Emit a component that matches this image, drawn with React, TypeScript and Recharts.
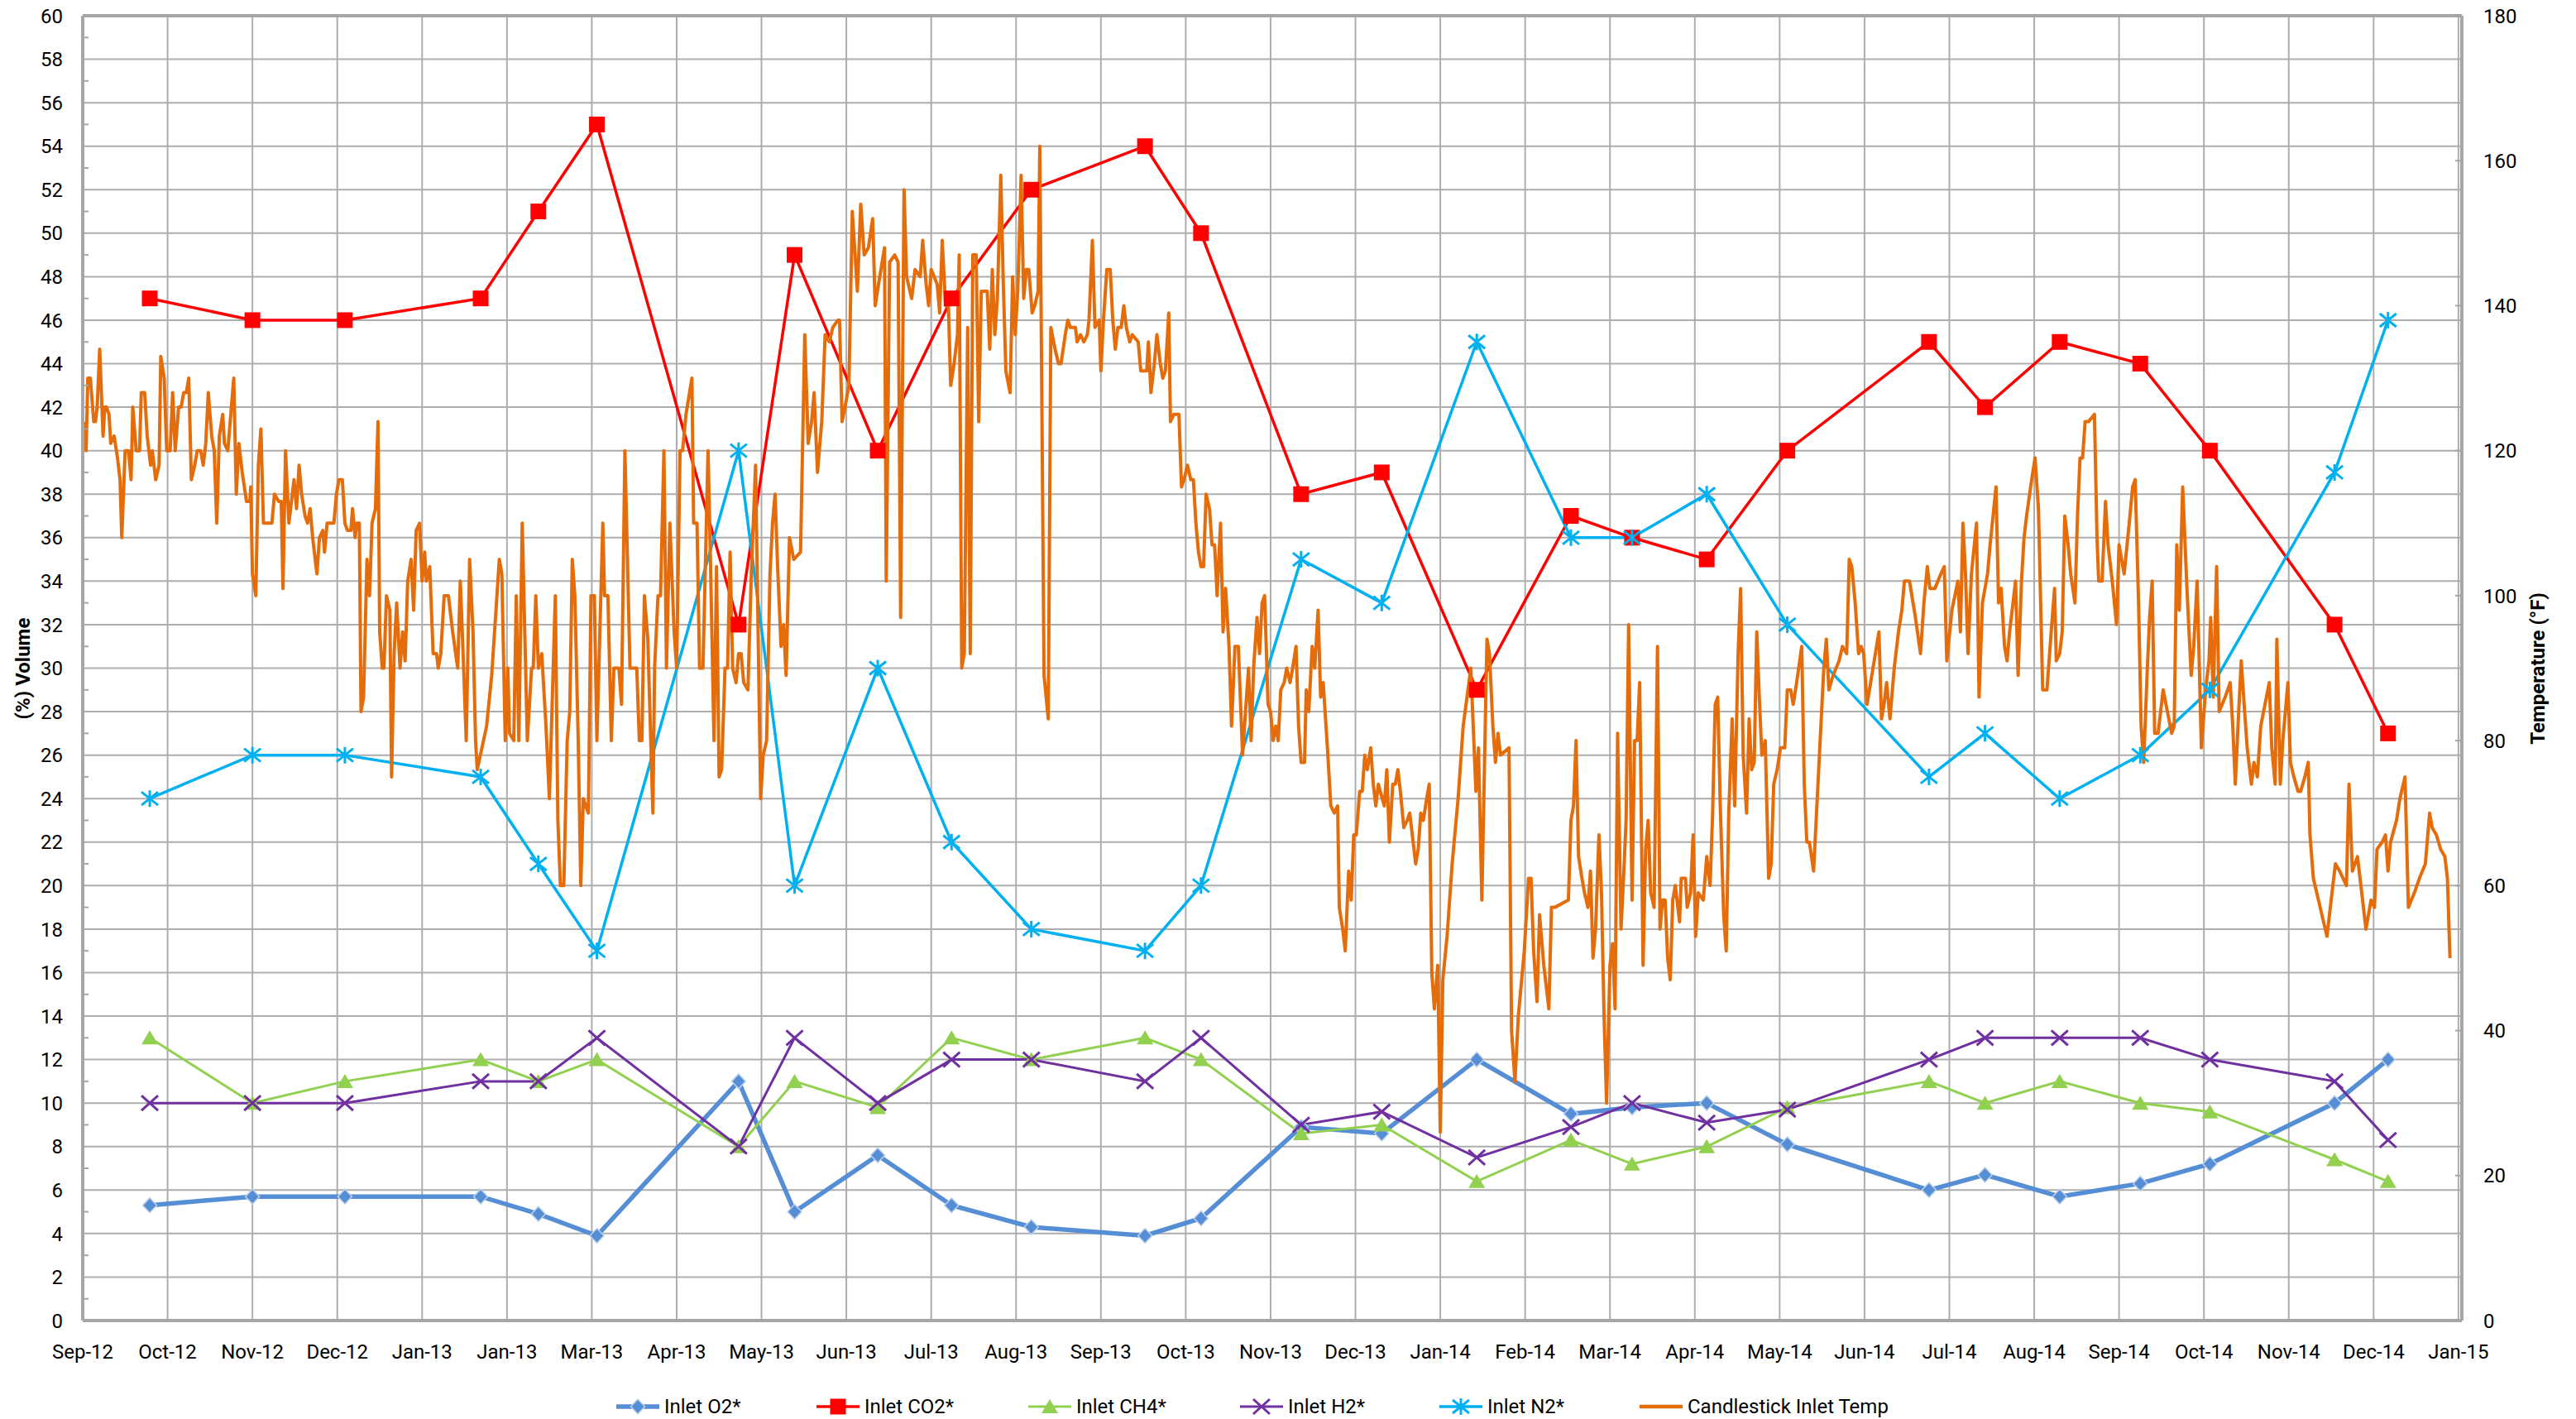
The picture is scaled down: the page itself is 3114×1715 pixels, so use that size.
import React from "react"
import { ComposedChart, Line, XAxis, YAxis, CartesianGrid, ReferenceLine } from "recharts"

// x values are months counted from the Sep-12 tick
const monthLabels = [
  "Sep-12", "Oct-12", "Nov-12", "Dec-12", "Jan-13", "Jan-13", "Mar-13", "Apr-13", "May-13", "Jun-13",
  "Jul-13", "Aug-13", "Sep-13", "Oct-13", "Nov-13", "Dec-13", "Jan-14", "Feb-14", "Mar-14", "Apr-14",
  "May-14", "Jun-14", "Jul-14", "Aug-14", "Sep-14", "Oct-14", "Nov-14", "Dec-14", "Jan-15",
]
const monthTicks = monthLabels.map((_, i) => i)

const volumeTicks = [0, 2, 4, 6, 8, 10, 12, 14, 16, 18, 20, 22, 24, 26, 28, 30, 32, 34, 36, 38, 40, 42, 44, 46, 48, 50, 52, 54, 56, 58, 60]
const volumeAllTicks = volumeTicks.flatMap((v) => (v < 60 ? [v, v + 1] : [v]))
const tempTicks = [0, 20, 40, 60, 80, 100, 120, 140, 160, 180]

const sampleMonths = [0.79, 2.0, 3.09, 4.69, 5.37, 6.06, 7.73, 8.39, 9.37, 10.24, 11.18, 12.52, 13.18, 14.36, 15.31, 16.43, 17.54, 18.26, 19.14, 20.09, 21.76, 22.42, 23.3, 24.25, 25.07, 26.54, 27.17]
const inletO2 = [5.3, 5.7, 5.7, 5.7, 4.9, 3.9, 11, 5.0, 7.6, 5.3, 4.3, 3.9, 4.7, 8.9, 8.6, 12, 9.5, 9.8, 10, 8.1, 6.0, 6.7, 5.7, 6.3, 7.2, 10, 12]
const inletCO2 = [47, 46, 46, 47, 51, 55, 32, 49, 40, 47, 52, 54, 50, 38, 39, 29, 37, 36, 35, 40, 45, 42, 45, 44, 40, 32, 27]
const inletCH4 = [13, 10, 11, 12, 11, 12, 8, 11, 9.8, 13, 12, 13, 12, 8.6, 9, 6.4, 8.3, 7.2, 8.0, 9.8, 11, 10, 11, 10, 9.6, 7.4, 6.4]
const inletH2 = [10, 10, 10, 11, 11, 13, 8, 13, 10, 12, 12, 11, 13, 9, 9.6, 7.5, 8.9, 10, 9.1, 9.7, 12, 13, 13, 13, 12, 11, 8.3]
const inletN2 = [24, 26, 26, 25, 21, 17, 40, 20, 30, 22, 18, 17, 20, 35, 33, 45, 36, 36, 38, 32, 25, 27, 24, 26, 29, 39, 46]

// [month, °F]
const candlestickTemp: [number, number][] = [
  [0.01, 124], [0.04, 120], [0.06, 130], [0.09, 130], [0.13, 124], [0.15, 124], [0.17, 126], [0.2, 134], [0.24, 122], [0.26, 126],
  [0.28, 126], [0.31, 125], [0.33, 121], [0.37, 122], [0.41, 119], [0.44, 116], [0.46, 108], [0.5, 120], [0.54, 120], [0.57, 116],
  [0.59, 126], [0.63, 120], [0.67, 120], [0.69, 128], [0.73, 128], [0.76, 122], [0.8, 118], [0.82, 120], [0.86, 116], [0.9, 118],
  [0.92, 133], [0.96, 130], [0.99, 120], [1.03, 120], [1.06, 128], [1.09, 120], [1.13, 126], [1.16, 126], [1.19, 128], [1.22, 128],
  [1.25, 130], [1.28, 116], [1.32, 118], [1.35, 120], [1.39, 120], [1.42, 118], [1.45, 121], [1.48, 128], [1.52, 122], [1.55, 120],
  [1.58, 110], [1.61, 122], [1.65, 125], [1.67, 121], [1.71, 120], [1.78, 130], [1.81, 114], [1.84, 121], [1.88, 117], [1.93, 113],
  [1.97, 113], [1.98, 115], [2.0, 103], [2.04, 100], [2.07, 118], [2.1, 123], [2.13, 110], [2.23, 110], [2.26, 114], [2.31, 113],
  [2.34, 113], [2.36, 101], [2.39, 120], [2.43, 110], [2.46, 113], [2.49, 116], [2.52, 112], [2.55, 118], [2.58, 114], [2.62, 111],
  [2.65, 110], [2.68, 112], [2.71, 108], [2.76, 103], [2.79, 108], [2.83, 109], [2.85, 106], [2.88, 110], [2.96, 110], [2.99, 114],
  [3.02, 116], [3.06, 116], [3.09, 110], [3.12, 109], [3.16, 109], [3.18, 112], [3.21, 108], [3.23, 110], [3.26, 110], [3.28, 84],
  [3.31, 86], [3.35, 105], [3.38, 100], [3.41, 110], [3.45, 112], [3.48, 124], [3.5, 95], [3.53, 90], [3.55, 90], [3.58, 100],
  [3.62, 98], [3.64, 75], [3.67, 92], [3.7, 99], [3.74, 90], [3.77, 95], [3.8, 91], [3.83, 102], [3.87, 105], [3.9, 98],
  [3.93, 109], [3.97, 110], [4.0, 102], [4.03, 106], [4.05, 102], [4.09, 104], [4.13, 92], [4.17, 92], [4.19, 90], [4.22, 92],
  [4.26, 100], [4.31, 100], [4.36, 95], [4.42, 90], [4.45, 102], [4.48, 93], [4.52, 80], [4.56, 105], [4.6, 95], [4.63, 80],
  [4.65, 76], [4.76, 82], [4.82, 89], [4.91, 105], [4.94, 103], [4.98, 80], [5.01, 90], [5.03, 81], [5.08, 80], [5.11, 100],
  [5.14, 80], [5.18, 110], [5.24, 80], [5.29, 90], [5.31, 90], [5.34, 100], [5.37, 90], [5.41, 92], [5.46, 82], [5.5, 72],
  [5.57, 100], [5.6, 69], [5.63, 60], [5.67, 60], [5.71, 80], [5.74, 84], [5.77, 105], [5.8, 100], [5.84, 80], [5.87, 60],
  [5.9, 72], [5.96, 70], [5.99, 100], [6.03, 100], [6.06, 80], [6.13, 110], [6.15, 100], [6.19, 100], [6.23, 80], [6.26, 90],
  [6.32, 90], [6.35, 85], [6.39, 120], [6.45, 90], [6.53, 90], [6.56, 80], [6.59, 80], [6.62, 100], [6.66, 94], [6.72, 70],
  [6.74, 90], [6.78, 100], [6.81, 100], [6.85, 120], [6.88, 90], [6.92, 110], [6.97, 95], [7.0, 90], [7.04, 120], [7.07, 120],
  [7.11, 125], [7.18, 130], [7.2, 110], [7.24, 110], [7.27, 90], [7.31, 90], [7.37, 120], [7.4, 104], [7.44, 80], [7.47, 104],
  [7.5, 75], [7.53, 76], [7.57, 90], [7.6, 90], [7.63, 106], [7.66, 90], [7.7, 88], [7.73, 92], [7.76, 92], [7.79, 88],
  [7.84, 87], [7.88, 103], [7.93, 118], [7.99, 72], [8.02, 78], [8.06, 80], [8.1, 103], [8.13, 110], [8.16, 114], [8.19, 104],
  [8.23, 93], [8.26, 96], [8.29, 89], [8.33, 108], [8.38, 105], [8.46, 106], [8.51, 136], [8.55, 121], [8.59, 124], [8.62, 128],
  [8.66, 117], [8.71, 124], [8.75, 136], [8.8, 135], [8.84, 137], [8.9, 138], [8.92, 138], [8.95, 124], [9.0, 127], [9.03, 129],
  [9.07, 153], [9.13, 142], [9.17, 154], [9.21, 147], [9.26, 148], [9.31, 152], [9.34, 140], [9.38, 143], [9.45, 148], [9.47, 102],
  [9.51, 146], [9.57, 147], [9.61, 146], [9.64, 97], [9.68, 156], [9.71, 144], [9.77, 141], [9.81, 145], [9.87, 144], [9.9, 149],
  [9.94, 143], [9.97, 140], [10.0, 145], [10.07, 143], [10.1, 139], [10.13, 149], [10.17, 140], [10.2, 141], [10.23, 129], [10.27, 132],
  [10.31, 136], [10.33, 147], [10.36, 90], [10.39, 92], [10.43, 137], [10.46, 92], [10.49, 147], [10.53, 147], [10.56, 124], [10.59, 142],
  [10.66, 142], [10.69, 134], [10.72, 145], [10.75, 136], [10.78, 141], [10.82, 158], [10.85, 143], [10.88, 131], [10.93, 128], [10.96, 144],
  [10.99, 136], [11.02, 142], [11.06, 158], [11.09, 141], [11.12, 145], [11.15, 145], [11.19, 139], [11.22, 140], [11.26, 142], [11.28, 162],
  [11.33, 89], [11.38, 83], [11.41, 137], [11.46, 134], [11.5, 132], [11.53, 132], [11.58, 136], [11.61, 138], [11.64, 137], [11.7, 137],
  [11.72, 135], [11.76, 136], [11.8, 135], [11.84, 136], [11.86, 138], [11.9, 149], [11.93, 137], [11.98, 138], [12.0, 131], [12.03, 138],
  [12.07, 145], [12.11, 145], [12.14, 138], [12.17, 134], [12.2, 137], [12.24, 137], [12.27, 140], [12.3, 137], [12.34, 135], [12.37, 136],
  [12.44, 135], [12.47, 131], [12.54, 131], [12.56, 135], [12.59, 128], [12.63, 132], [12.66, 136], [12.7, 132], [12.73, 130], [12.76, 131],
  [12.8, 139], [12.82, 124], [12.86, 125], [12.92, 125], [12.95, 115], [12.98, 116], [13.02, 118], [13.06, 116], [13.09, 116], [13.12, 110],
  [13.15, 106], [13.18, 104], [13.21, 104], [13.24, 114], [13.28, 112], [13.31, 107], [13.34, 107], [13.37, 100], [13.41, 110], [13.44, 95],
  [13.47, 101], [13.51, 93], [13.54, 82], [13.58, 93], [13.62, 93], [13.67, 78], [13.71, 85], [13.74, 90], [13.77, 80], [13.8, 90],
  [13.84, 97], [13.87, 92], [13.9, 99], [13.93, 100], [13.97, 85], [14.0, 84], [14.03, 80], [14.06, 82], [14.09, 80], [14.12, 87],
  [14.16, 88], [14.19, 90], [14.23, 88], [14.26, 90], [14.3, 93], [14.33, 82], [14.36, 77], [14.4, 77], [14.42, 87], [14.45, 84],
  [14.49, 93], [14.52, 90], [14.56, 98], [14.59, 86], [14.62, 88], [14.67, 79], [14.71, 71], [14.75, 70], [14.79, 71], [14.81, 57],
  [14.85, 54], [14.88, 51], [14.92, 62], [14.95, 58], [14.98, 67], [15.01, 67], [15.05, 73], [15.08, 73], [15.11, 78], [15.14, 76],
  [15.18, 79], [15.21, 74], [15.24, 71], [15.27, 74], [15.34, 71], [15.37, 76], [15.4, 66], [15.44, 74], [15.47, 74], [15.5, 76],
  [15.53, 73], [15.57, 68], [15.61, 69], [15.64, 70], [15.67, 67], [15.71, 63], [15.74, 65], [15.77, 70], [15.8, 69], [15.84, 72],
  [15.87, 74], [15.9, 48], [15.93, 43], [15.97, 49], [16.0, 26], [16.03, 47], [16.08, 53], [16.14, 63], [16.21, 72], [16.27, 82],
  [16.36, 90], [16.42, 73], [16.45, 79], [16.49, 58], [16.55, 94], [16.58, 92], [16.62, 82], [16.65, 77], [16.68, 81], [16.71, 78],
  [16.81, 79], [16.84, 40], [16.88, 33], [16.92, 42], [16.99, 51], [17.04, 61], [17.07, 61], [17.1, 51], [17.14, 44], [17.17, 56],
  [17.22, 49], [17.28, 43], [17.31, 57], [17.35, 57], [17.51, 58], [17.54, 69], [17.57, 71], [17.6, 80], [17.63, 64], [17.67, 61],
  [17.7, 59], [17.74, 57], [17.77, 62], [17.8, 50], [17.83, 54], [17.87, 67], [17.9, 59], [17.93, 42], [17.96, 30], [18.0, 49],
  [18.03, 52], [18.06, 43], [18.09, 81], [18.13, 54], [18.16, 61], [18.19, 69], [18.22, 96], [18.26, 58], [18.29, 80], [18.32, 80],
  [18.35, 88], [18.39, 49], [18.42, 65], [18.45, 69], [18.48, 59], [18.52, 57], [18.56, 93], [18.59, 54], [18.62, 58], [18.65, 58],
  [18.68, 50], [18.71, 47], [18.74, 58], [18.77, 60], [18.82, 55], [18.84, 61], [18.89, 61], [18.91, 57], [18.95, 59], [18.98, 67],
  [19.01, 53], [19.04, 59], [19.1, 58], [19.14, 64], [19.18, 60], [19.21, 70], [19.24, 85], [19.27, 86], [19.3, 71], [19.34, 56],
  [19.37, 51], [19.4, 70], [19.44, 83], [19.47, 71], [19.51, 92], [19.54, 101], [19.57, 78], [19.61, 70], [19.64, 83], [19.67, 76],
  [19.7, 77], [19.73, 95], [19.76, 86], [19.79, 78], [19.83, 80], [19.87, 61], [19.9, 63], [19.93, 74], [19.97, 76], [20.01, 79],
  [20.06, 79], [20.09, 87], [20.13, 87], [20.16, 85], [20.2, 88], [20.26, 93], [20.29, 74], [20.32, 66], [20.35, 66], [20.4, 62],
  [20.46, 76], [20.52, 90], [20.55, 94], [20.58, 87], [20.63, 89], [20.7, 91], [20.74, 93], [20.79, 92], [20.82, 105], [20.85, 104],
  [20.89, 99], [20.93, 92], [20.96, 93], [20.99, 92], [21.03, 85], [21.1, 90], [21.17, 95], [21.2, 83], [21.23, 85], [21.26, 88],
  [21.3, 83], [21.35, 90], [21.4, 95], [21.44, 98], [21.47, 102], [21.53, 102], [21.6, 97], [21.66, 92], [21.7, 99], [21.74, 104],
  [21.77, 101], [21.83, 101], [21.9, 103], [21.94, 104], [21.97, 91], [22.03, 98], [22.1, 102], [22.13, 95], [22.16, 110], [22.19, 103],
  [22.22, 92], [22.26, 103], [22.32, 110], [22.35, 86], [22.39, 99], [22.45, 103], [22.48, 107], [22.55, 115], [22.58, 99], [22.61, 101],
  [22.65, 93], [22.68, 91], [22.71, 95], [22.78, 102], [22.81, 89], [22.85, 102], [22.88, 108], [22.91, 111], [22.97, 116], [23.01, 119],
  [23.05, 112], [23.1, 87], [23.15, 87], [23.2, 95], [23.24, 101], [23.26, 91], [23.3, 92], [23.33, 95], [23.36, 111], [23.4, 107],
  [23.43, 103], [23.48, 99], [23.51, 111], [23.54, 119], [23.57, 119], [23.6, 124], [23.64, 124], [23.71, 125], [23.74, 108], [23.76, 102],
  [23.8, 102], [23.84, 113], [23.87, 107], [23.92, 102], [23.97, 96], [24.0, 107], [24.03, 105], [24.06, 103], [24.12, 110], [24.16, 115],
  [24.19, 116], [24.23, 99], [24.26, 82], [24.29, 77], [24.33, 89], [24.36, 97], [24.39, 102], [24.42, 81], [24.46, 81], [24.52, 87],
  [24.57, 84], [24.62, 81], [24.65, 82], [24.68, 107], [24.71, 98], [24.75, 115], [24.8, 101], [24.85, 89], [24.88, 93], [24.92, 102],
  [24.94, 93], [24.97, 79], [25.02, 87], [25.06, 91], [25.08, 97], [25.11, 86], [25.15, 104], [25.18, 84], [25.25, 86], [25.31, 88],
  [25.34, 82], [25.37, 74], [25.41, 84], [25.44, 91], [25.48, 84], [25.51, 79], [25.56, 74], [25.59, 77], [25.63, 75], [25.67, 82],
  [25.72, 85], [25.77, 88], [25.8, 79], [25.84, 74], [25.86, 94], [25.9, 74], [25.93, 80], [25.99, 88], [26.02, 77], [26.06, 75],
  [26.11, 73], [26.14, 73], [26.19, 75], [26.23, 77], [26.25, 67], [26.29, 61], [26.37, 57], [26.45, 53], [26.5, 58], [26.55, 63],
  [26.6, 62], [26.68, 60], [26.71, 74], [26.75, 62], [26.81, 64], [26.86, 59], [26.91, 54], [26.94, 56], [26.97, 58], [27.01, 57],
  [27.04, 65], [27.1, 66], [27.14, 67], [27.17, 62], [27.2, 66], [27.27, 69], [27.31, 72], [27.37, 75], [27.41, 57], [27.48, 59],
  [27.54, 61], [27.61, 63], [27.66, 70], [27.69, 68], [27.74, 67], [27.79, 65], [27.84, 64], [27.87, 61], [27.9, 50],
]

const FONT = "Roboto, 'DejaVu Sans', sans-serif"
const GRID = "#ADADAD"
const AXIS = "#A6A6A6"

type Kind = "diamond" | "square" | "triangle" | "x" | "star" | "none"

function marker(kind: Kind, cx: number, cy: number, key?: string) {
  switch (kind) {
    case "diamond":
      return <path key={key} d={`M${cx} ${cy - 9}L${cx + 8.5} ${cy}L${cx} ${cy + 9}L${cx - 8.5} ${cy}Z`} fill="#558ED5" stroke="#BFD2EC" strokeWidth={1.5} />
    case "square":
      return <rect key={key} x={cx - 9.5} y={cy - 9.5} width={19} height={19} fill="#FF0000" />
    case "triangle":
      return <path key={key} d={`M${cx} ${cy - 9}L${cx + 10} ${cy + 8}L${cx - 10} ${cy + 8}Z`} fill="#92D050" />
    case "x":
      return <path key={key} d={`M${cx - 10} ${cy - 9}L${cx + 10} ${cy + 9}M${cx - 10} ${cy + 9}L${cx + 10} ${cy - 9}`} stroke="#7030A0" strokeWidth={3} fill="none" />
    case "star":
      return <path key={key} d={`M${cx - 10} ${cy - 8}L${cx + 10} ${cy + 8}M${cx - 10} ${cy + 8}L${cx + 10} ${cy - 8}M${cx} ${cy - 10}L${cx} ${cy + 10}`} stroke="#00B0F0" strokeWidth={3} fill="none" />
    default:
      return <g key={key} />
  }
}

const dotOf = (kind: Kind, name: string) => (p: any) => {
  const key = `${name}-${p.index}`
  if (p.cx == null || p.cy == null) return <g key={key} />
  return marker(kind, p.cx, p.cy, key)
}

const toRows = (values: number[]) => sampleMonths.map((t, i) => ({ t, v: values[i] }))

const gasSeries = [
  { name: "Inlet O2*", values: inletO2, color: "#558ED5", width: 5.5, kind: "diamond" as Kind },
  { name: "Inlet CO2*", values: inletCO2, color: "#FF0000", width: 3.5, kind: "square" as Kind },
  { name: "Inlet CH4*", values: inletCH4, color: "#92D050", width: 3, kind: "triangle" as Kind },
  { name: "Inlet H2*", values: inletH2, color: "#7030A0", width: 3, kind: "x" as Kind },
  { name: "Inlet N2*", values: inletN2, color: "#00B0F0", width: 3.5, kind: "star" as Kind },
]

const legendItems = [
  ...gasSeries.map((s) => ({ name: s.name, color: s.color, width: s.width, kind: s.kind })),
  { name: "Candlestick Inlet Temp", color: "#E46C0A", width: 4.5, kind: "none" as Kind },
]
const legendLeft = [743, 985, 1241, 1497, 1738, 1980]

const LeftTick = (props: any) => {
  const { x, y, payload } = props
  const v = payload.value
  const ax = x + 24
  if (v % 2 === 1) return <line x1={ax} x2={ax + 7} y1={y} y2={y} stroke={AXIS} strokeWidth={2} />
  return (
    <text x={x} y={y} dy="0.36em" textAnchor="end" fontSize={24} fill="#000" fontFamily={FONT}>
      {v}
    </text>
  )
}

const RightTick = (props: any) => {
  const { x, y, payload } = props
  const ax = x - 26
  return (
    <g>
      <line x1={ax - 8} x2={ax} y1={y} y2={y} stroke={AXIS} strokeWidth={2} />
      <text x={x} y={y} dy="0.36em" textAnchor="start" fontSize={24} fill="#000" fontFamily={FONT}>
        {payload.value}
      </text>
    </g>
  )
}

export default function App() {
  const tempRows = candlestickTemp.map(([t, v]) => ({ t, v }))
  return (
    <div style={{ position: "absolute", left: 0, top: 0, width: 3114, height: 1715, background: "#fff", fontFamily: FONT }}>
      <ComposedChart width={3114} height={1715} margin={{ top: 19, right: 0, bottom: 59, left: 0 }}>
        <CartesianGrid
          yAxisId="left"
          stroke={GRID}
          strokeWidth={2}
          horizontalValues={volumeTicks}
          verticalValues={monthTicks}
        />
        <XAxis
          dataKey="t"
          type="number"
          domain={[0, 28.04]}
          ticks={monthTicks}
          interval={0}
          tickFormatter={(i: number) => monthLabels[i]}
          height={60}
          tickSize={0}
          tickMargin={29}
          tick={{ fontSize: 24, fill: "#000", fontFamily: FONT }}
          axisLine={{ stroke: AXIS, strokeWidth: 4 }}
          allowDataOverflow
        />
        <YAxis
          yAxisId="left"
          domain={[0, 60]}
          ticks={volumeAllTicks}
          interval={0}
          width={100}
          tickSize={0}
          tickMargin={24}
          tick={<LeftTick />}
          tickLine={false}
          axisLine={{ stroke: AXIS, strokeWidth: 4 }}
        />
        <YAxis
          yAxisId="right"
          orientation="right"
          domain={[0, 180]}
          ticks={tempTicks}
          interval={0}
          width={138}
          tickSize={0}
          tickMargin={26}
          tick={<RightTick />}
          tickLine={false}
          axisLine={{ stroke: AXIS, strokeWidth: 4 }}
        />
        <ReferenceLine yAxisId="left" y={60} stroke={AXIS} strokeWidth={4} />
        {gasSeries.map((s) => (
          <Line
            key={s.name}
            yAxisId="left"
            data={toRows(s.values)}
            dataKey="v"
            name={s.name}
            type="linear"
            stroke={s.color}
            strokeWidth={s.width}
            dot={dotOf(s.kind, s.name)}
            activeDot={false}
            isAnimationActive={false}
          />
        ))}
        <Line
          yAxisId="right"
          data={tempRows}
          dataKey="v"
          name="Candlestick Inlet Temp"
          type="linear"
          stroke="#E46C0A"
          strokeWidth={4}
          strokeLinejoin="round"
          dot={false}
          activeDot={false}
          isAnimationActive={false}
        />
      </ComposedChart>

      <div
        style={{
          position: "absolute",
          left: 28,
          top: 808,
          transform: "translate(-50%, -50%) rotate(-90deg)",
          fontSize: 24,
          fontWeight: 700,
          whiteSpace: "nowrap",
        }}
      >
        (%) Volume
      </div>
      <div
        style={{
          position: "absolute",
          left: 3068,
          top: 808,
          transform: "translate(-50%, -50%) rotate(-90deg)",
          fontSize: 24,
          fontWeight: 700,
          whiteSpace: "nowrap",
        }}
      >
        Temperature (°F)
      </div>

      {legendItems.map((item, i) => (
        <div
          key={item.name}
          style={{ position: "absolute", left: legendLeft[i], top: 1685, height: 30, display: "flex", alignItems: "center", fontSize: 24, whiteSpace: "nowrap" }}
        >
          <svg width={56} height={30} style={{ marginRight: 4 }}>
            <line x1={2} x2={54} y1={15} y2={15} stroke={item.color} strokeWidth={item.width} />
            {marker(item.kind, 28, 15)}
          </svg>
          <span>{item.name}</span>
        </div>
      ))}
    </div>
  )
}
